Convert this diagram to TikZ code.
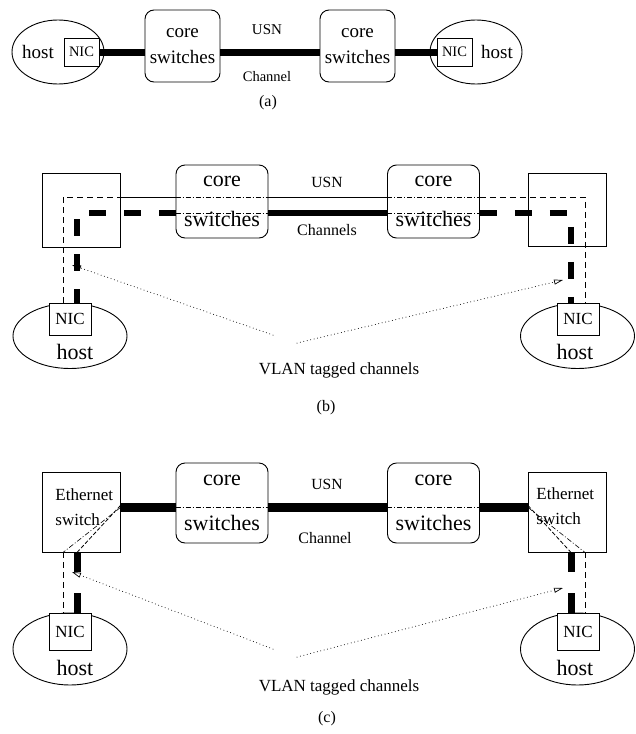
\documentclass[tikz,border=0pt]{standalone}
\usepackage{fontspec}
\setmainfont{Liberation Serif}
\usetikzlibrary{shapes.geometric,arrows.meta}
\newcommand\fsz[2]{\fontsize{#1}{#2}\selectfont}
\tikzset{
  corebox/.style={draw, rounded corners=9pt, align=center, inner sep=0pt},
  swbox/.style={draw, inner sep=0pt, minimum width=78pt},
  nicbox/.style={draw, fill=white, inner sep=0pt, line width=0.7pt},
  hostell/.style={draw, ellipse, inner sep=0pt},
  trunk/.style={line width=#1},
  thinline/.style={line width=0.8pt},
  thindash/.style={line width=0.8pt, dash pattern=on 6pt off 4pt},
  dashdot/.style={line width=0.6pt, dash pattern=on 5pt off 2pt on 1pt off 2pt},
  vlanarrow/.style={line width=1pt, line cap=round, dash pattern=on 0pt off 3.5pt,
    -{Triangle[open, length=9pt, width=5pt, line cap=butt, line width=0.7pt]}},
}

\begin{document}
\begin{tikzpicture}[x=1pt, y=-1pt, line width=0.9pt]
  \useasboundingbox (0,0) rectangle (635,734);

  % (a)
  \node[hostell, minimum width=92pt, minimum height=64pt] (hostA1) at (58,52) {};
  \node[hostell, minimum width=92pt, minimum height=64pt] (hostA2) at (476,52) {};
  \node[nicbox, minimum width=35pt, minimum height=28pt, font=\fsz{14.5}{17}] (nicA1) at (81.5,52) {NIC};
  \node[nicbox, minimum width=35pt, minimum height=28pt, font=\fsz{14.5}{17}] (nicA2) at (454.5,52) {NIC};
  \node[font=\fsz{19}{22}] (hostA1t) at (38,52) {host};
  \node[font=\fsz{19}{22}] (hostA2t) at (497,52) {host};
  \node[corebox, minimum width=75pt, minimum height=72pt, font=\fsz{19}{26}] (coreA1) at (182.5,46) {core\\switches};
  \node[corebox, minimum width=75pt, minimum height=72pt, font=\fsz{19}{26}] (coreA2) at (357.5,46) {core\\switches};
  \draw[trunk=7pt] (nicA1.east) -- (nicA1.east -| coreA1.west);
  \draw[trunk=7pt] (coreA1.east |- nicA1.east) -- (coreA2.west |- nicA1.east);
  \draw[trunk=7pt] (coreA2.east |- nicA2.west) -- (nicA2.west);
  \node[font=\fsz{15}{18}] (usnA) at (267,30) {USN};
  \node[font=\fsz{14.5}{18}] (chanA) at (267,77) {Channel};
  \node[font=\fsz{16}{19}] (capA) at (268,103) {(a)};

  % (b)
  \coordinate (usnB) at (327,197);
  \coordinate (chB) at (327,213);
  \node[swbox, minimum height=74pt] (swB1) at (81,210) {};
  \node[swbox, minimum height=73pt] (swB2) at (567.5,209.5) {};
  \node[corebox, minimum width=92pt, minimum height=73pt, font=\fsz{22}{40}] (coreB1) at (222,201.5) {core\\switches};
  \node[corebox, minimum width=92pt, minimum height=73pt, font=\fsz{22}{40}] (coreB2) at (433.5,201.5) {core\\switches};
  \node[hostell, minimum width=114pt, minimum height=65pt] (hostB1) at (70,336) {};
  \node[hostell, minimum width=114pt, minimum height=65pt] (hostB2) at (577.5,336) {};
  \node[font=\fsz{22}{26}] (hostB1t) at (75,352) {host};
  \node[font=\fsz{22}{26}] (hostB2t) at (575,352) {host};
  \node[nicbox, minimum width=42pt, minimum height=32pt, font=\fsz{17}{20}] (nicB1) at (70,319) {NIC};
  \node[nicbox, minimum width=42pt, minimum height=32pt, font=\fsz{17}{20}] (nicB2) at (578,319) {NIC};
  \draw[thindash] ([xshift=-7pt]nicB1.north) |- (swB1.east |- usnB);
  \draw[thinline] (swB1.east |- usnB) -- (coreB1.west |- usnB);
  \draw[dashdot] (coreB1.west |- usnB) -- (coreB1.east |- usnB);
  \draw[thinline] (coreB1.east |- usnB) -- (coreB2.west |- usnB);
  \draw[dashdot] (coreB2.west |- usnB) -- (coreB2.east |- usnB);
  \draw[thindash] (coreB2.east |- usnB) -| ([xshift=7pt]nicB2.north);
  \draw[trunk=6pt, dash pattern=on 17pt off 18pt] (coreB1.west |- chB) -| ([xshift=7pt]nicB1.north);
  \draw[dashdot] (coreB1.west |- chB) -- (coreB1.east |- chB);
  \draw[trunk=6pt] (coreB1.east |- chB) -- (coreB2.west |- chB);
  \draw[dashdot] (coreB2.west |- chB) -- (coreB2.east |- chB);
  \draw[trunk=6pt, dash pattern=on 17pt off 18pt] (coreB2.east |- chB) -| ([xshift=-7pt]nicB2.north);
  \node[font=\fsz{15.5}{18}] (usnBt) at (327,182) {USN};
  \node[font=\fsz{16}{18}] (chanBt) at (327,230) {Channels};
  \coordinate (vlanB1) at (273,335);
  \coordinate (vlanB2) at (297,343);
  \coordinate (tipB1) at (72,265);
  \coordinate (tipB2) at (563,280);
  \draw[vlanarrow] (vlanB1) -- (tipB1);
  \draw[vlanarrow] (vlanB2) -- (tipB2);
  \node[font=\fsz{17}{20}] (vlanB) at (339,370) {VLAN tagged channels};
  \node[font=\fsz{16}{19}] (capB) at (326,408) {(b)};

  % (c)
  \coordinate (chC) at (327,507.5);
  \node[swbox, minimum height=80pt] (swC1) at (81,512) {};
  \node[swbox, minimum height=80pt] (swC2) at (567.5,512) {};
  \node[font=\fsz{17}{25}, align=left, anchor=north west, inner sep=0pt] (swC1t) at (55,488) {Ethernet\\switch};
  \node[font=\fsz{17}{25}, align=left, anchor=north west, inner sep=0pt] (swC2t) at (536,487) {Ethernet\\switch};
  \node[corebox, minimum width=92pt, minimum height=80pt, font=\fsz{22}{45}] (coreC1) at (222,503) {core\\switches};
  \node[corebox, minimum width=92pt, minimum height=80pt, font=\fsz{22}{45}] (coreC2) at (433.5,503) {core\\switches};
  \node[hostell, minimum width=114pt, minimum height=72pt] (hostC1) at (70,649) {};
  \node[hostell, minimum width=114pt, minimum height=72pt] (hostC2) at (577.5,649) {};
  \node[font=\fsz{22}{26}] (hostC1t) at (75,668) {host};
  \node[font=\fsz{22}{26}] (hostC2t) at (575,668) {host};
  \node[nicbox, minimum width=42pt, minimum height=37pt, font=\fsz{17}{20}] (nicC1) at (70,631.5) {NIC};
  \node[nicbox, minimum width=42pt, minimum height=37pt, font=\fsz{17}{20}] (nicC2) at (578,631.5) {NIC};
  \draw[trunk=9.5pt] (swC1.east |- chC) -- (coreC1.west |- chC);
  \draw[dashdot] (coreC1.west |- chC) -- (coreC1.east |- chC);
  \draw[trunk=9.5pt] (coreC1.east |- chC) -- (coreC2.west |- chC);
  \draw[dashdot] (coreC2.west |- chC) -- (coreC2.east |- chC);
  \draw[trunk=9.5pt] (coreC2.east |- chC) -- (swC2.west |- chC);
  \draw[dashdot] (swC1.east |- chC) -- ([xshift=-7pt]nicC1.north |- swC1.south);
  \draw[thindash, dash pattern=on 4pt off 2pt] ([yshift=2pt]swC1.east |- chC) -- ([xshift=7pt]nicC1.north |- swC1.south);
  \draw[dashdot] (swC2.west |- chC) -- ([xshift=7pt]nicC2.north |- swC2.south);
  \draw[thindash, dash pattern=on 4pt off 2pt] ([yshift=2pt]swC2.west |- chC) -- ([xshift=-7pt]nicC2.north |- swC2.south);
  \draw[thindash] ([xshift=-7pt]nicC1.north |- swC1.south) -- ([xshift=-7pt]nicC1.north);
  \draw[trunk=7pt, dash pattern=on 20pt off 21pt] ([xshift=7pt]nicC1.north |- swC1.south) -- ([xshift=7pt]nicC1.north);
  \draw[thindash] ([xshift=7pt]nicC2.north |- swC2.south) -- ([xshift=7pt]nicC2.north);
  \draw[trunk=7pt, dash pattern=on 20pt off 21pt] ([xshift=-7pt]nicC2.north |- swC2.south) -- ([xshift=-7pt]nicC2.north);
  \node[font=\fsz{15.5}{18}] (usnCt) at (327,484) {USN};
  \node[font=\fsz{16}{18}] (chanCt) at (325,538) {Channel};
  \coordinate (vlanC1) at (273,649);
  \coordinate (vlanC2) at (297,657);
  \coordinate (tipC1) at (72,572);
  \coordinate (tipC2) at (563,588);
  \draw[vlanarrow] (vlanC1) -- (tipC1);
  \draw[vlanarrow] (vlanC2) -- (tipC2);
  \node[font=\fsz{17}{20}] (vlanC) at (339,687) {VLAN tagged channels};
  \node[font=\fsz{16}{19}] (capC) at (327,719) {(c)};
\end{tikzpicture}
\end{document}
